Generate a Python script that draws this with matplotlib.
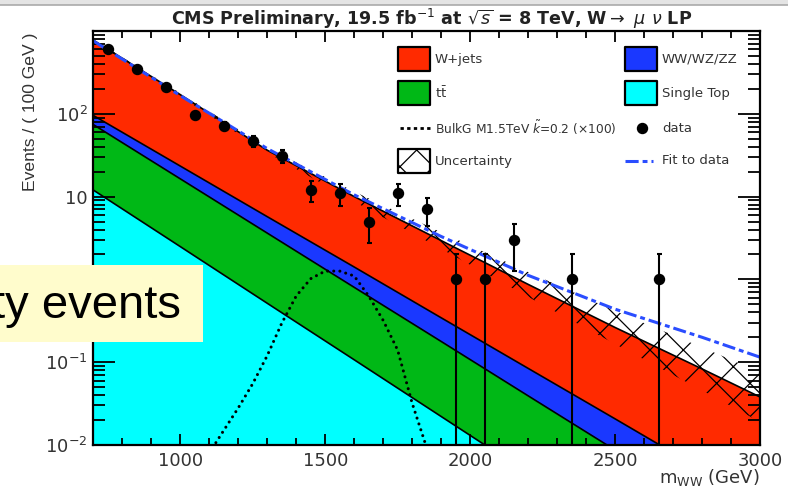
import numpy as np
import matplotlib
matplotlib.use('Agg')
import matplotlib.pyplot as plt
from matplotlib.patches import Rectangle
from matplotlib.lines import Line2D
from matplotlib.ticker import MultipleLocator, LogLocator, FuncFormatter, NullFormatter

plt.rcParams['font.family'] = ['DejaVu Sans']
plt.rcParams['mathtext.fontset'] = 'dejavusans'
plt.rcParams['hatch.linewidth'] = 0.9

# background templates (events / 100 GeV) at a few mass points
mass_grid = [700, 1000, 1300, 1600, 1900, 2200, 2500, 2800, 3000]
single_top = [12.0, 2.49, 0.515, 0.107, 0.0221, 0.00457, 0.00095, 0.000195, 0.0000692]
ttbar = [62.1, 13.9, 3.11, 0.695, 0.156, 0.0347, 0.00775, 0.00173, 0.00064]
diboson = [21.4, 7.0, 2.1, 0.61, 0.166, 0.045, 0.012, 0.0031, 0.0013]
wjets = [680, 147, 30.6, 8.6, 2.6, 0.787, 0.242, 0.078, 0.036]

# uncertainty band on total background
unc_low = [758, 162, 33.9, 8.71, 2.34, 0.616, 0.166, 0.0457, 0.019]
unc_high = [794, 178, 38.9, 11.5, 3.71, 1.23, 0.417, 0.151, 0.076]

# fit to data
fit_vals = [759, 166, 38, 10.5, 3.3, 1.12, 0.437, 0.2, 0.115]

# BulkG M=1.5 TeV signal (x100)
sig_mass = [1100, 1150, 1200, 1250, 1300, 1350, 1400, 1450, 1500, 1550,
            1600, 1650, 1700, 1750, 1800, 1850]
sig_vals = [0.008, 0.015, 0.028, 0.055, 0.12, 0.295, 0.63, 1.02, 1.26, 1.26,
            1.10, 0.63, 0.32, 0.14, 0.032, 0.0093]

# data
data_mass = [750, 850, 950, 1050, 1150, 1250, 1350, 1450, 1550, 1650,
             1750, 1850, 1950, 2050, 2150, 2350, 2650]
data_n = [600, 348, 210, 96, 72, 47, 31, 12, 11, 5, 11, 7, 1, 1, 3, 1, 1]

c_wjets = '#ff2a00'
c_vv = '#1a38ff'
c_tt = '#00b816'
c_st = '#00ffff'
c_fit = '#2a4dff'

W, H = 788, 487
def fx(x):
    return x / W
def fy(y):
    return 1 - y / H

fig = plt.figure(figsize=(W / 100, H / 100), dpi=100)
ax = fig.add_axes([93.3 / W, 1 - 445 / H, 666.7 / W, 414 / H])
ax.set_yscale('log')
ax.set_xlim(700, 3000)
ax.set_ylim(0.01, 1000)

# stacked backgrounds
comps = np.array([single_top, ttbar, diboson, wjets])
tops = np.cumsum(comps, axis=0)
bottom = np.full(len(mass_grid), 1e-4)
for top, col in zip(tops, [c_st, c_tt, c_vv, c_wjets]):
    ax.fill_between(mass_grid, bottom, top, color=col, lw=0, zorder=1)
    ax.plot(mass_grid, top, color='k', lw=1.2, zorder=2)
    bottom = top

# uncertainty hatch
ax.fill_between(mass_grid, unc_low, unc_high, facecolor='none', edgecolor='k',
                hatch='x', lw=0, zorder=3)

# fit line
fl, = ax.plot(mass_grid, fit_vals, color=c_fit, lw=2.2, zorder=4)
fl.set_dashes((4.3, 1.3, 1.6, 1.3))

# signal
sl, = ax.plot(sig_mass, sig_vals, color='k', lw=2.2, zorder=4,
              dash_capstyle='round')
sl.set_dashes((0.01, 2.0))

# data points
n = np.array(data_n, dtype=float)
err = np.sqrt(n)
err_lo = np.where(n - err > 0, err, n - 1e-4)
ax.errorbar(data_mass, n, yerr=[err_lo, err], fmt='o', color='k', ms=7.2,
            lw=1.5, capsize=1.8, capthick=1.5, zorder=5)

# axes styling
for sp in ax.spines.values():
    sp.set_linewidth(1.6)
    sp.set_zorder(6)
ax.xaxis.set_major_locator(MultipleLocator(500))
ax.xaxis.set_minor_locator(MultipleLocator(100))
ax.yaxis.set_major_locator(LogLocator(base=10, numticks=10))
ax.yaxis.set_minor_locator(LogLocator(base=10, subs=np.arange(2, 10), numticks=20))
ax.yaxis.set_minor_formatter(NullFormatter())

# the "1" label sits under the note box, so it is left blank
ylabels = {-2: r'$\mathregular{10^{-2}}$', -1: r'$\mathregular{10^{-1}}$',
           1: '10', 2: r'$\mathregular{10^{2}}$'}
ax.yaxis.set_major_formatter(FuncFormatter(
    lambda v, p: ylabels.get(int(round(np.log10(v))), '')))

ax.tick_params(axis='x', which='major', direction='in', length=8, width=1.3,
               top=True, labelsize=13, pad=5, colors='k', labelcolor='#333333')
ax.tick_params(axis='x', which='minor', direction='in', length=5, width=1.3, top=True)
ax.tick_params(axis='y', which='major', direction='in', length=15.5, width=1.3,
               right=True, labelsize=13, pad=4, labelcolor='#333333')
ax.tick_params(axis='y', which='minor', direction='in', length=8.5, width=1.3, right=True)

# title and axis titles
fig.text(fx(432), fy(19), r'CMS Preliminary, 19.5 fb$^{-1}$ at $\sqrt{s}$ = 8 TeV, W$\rightarrow$ $\mu$ $\nu$ LP',
         ha='center', va='center', fontsize=12.6, fontweight='bold', color='#222222')
fig.text(fx(760), fy(478), r'm$_{\mathregular{WW}}$ (GeV)', ha='right', va='center',
         fontsize=13, color='#333333')
fig.text(fx(30), fy(112), 'Events / ( 100 GeV )', rotation=90, ha='center', va='center',
         fontsize=12.6, color='#333333', family='Liberation Sans')

# legend
def box(x0, y0, **kw):
    fig.add_artist(Rectangle((fx(x0), fy(y0 + 24)), 32 / W, 24 / H,
                             transform=fig.transFigure, lw=1.6, edgecolor='k',
                             joinstyle='round', zorder=7, **kw))

def label(x, y, s, size=9.5):
    fig.text(fx(x), fy(y), s, ha='left', va='center', fontsize=size,
             color='#333333', zorder=7)

box(398, 47, facecolor=c_wjets)
label(435, 59, 'W+jets')
box(625, 47, facecolor=c_vv)
label(662, 59, 'WW/WZ/ZZ')
box(398, 81, facecolor=c_tt)
label(435, 93, r'$\mathregular{t\bar{t}}$')
box(625, 81, facecolor=c_st)
label(662, 93, 'Single Top')

leg_sig = Line2D([fx(400), fx(430)], [fy(128), fy(128)], transform=fig.transFigure,
                 color='k', lw=2.0, zorder=7)
leg_sig.set_dashes((1.2, 1.2))
fig.add_artist(leg_sig)
label(435, 128, r'BulkG M1.5TeV $\tilde{k}$=0.2 (×100)', size=8.8)
fig.add_artist(Line2D([fx(642)], [fy(128)], transform=fig.transFigure, marker='o',
                      ms=7.2, color='k', lw=0, zorder=7))
label(662, 128, 'data')

box(398, 149, facecolor='white', hatch='x')
label(435, 161, 'Uncertainty')
leg_fit = Line2D([fx(625), fx(653)], [fy(161), fy(161)], transform=fig.transFigure,
                 color=c_fit, lw=2.2, zorder=7)
leg_fit.set_dashes((4.3, 1.3, 1.6, 1.3))
fig.add_artist(leg_fit)
label(662, 161, 'Fit to data')

# window strip along the top edge
fig.add_artist(Rectangle((0, fy(4.5)), 1, 4.5 / H, transform=fig.transFigure,
                         facecolor='#e4e4e4', lw=0, zorder=8))
fig.add_artist(Line2D([0, 1], [fy(4.5), fy(4.5)], transform=fig.transFigure,
                      color='#aaaaaa', lw=1.2, zorder=8))

# slide note overlapping the plot
fig.add_artist(Rectangle((0, fy(342)), 203 / W, 77 / H, transform=fig.transFigure,
                         facecolor='#fffccc', lw=0, zorder=9))
fig.text(fx(181), fy(318), 'ty events', ha='right', va='baseline', fontsize=34,
         family='Liberation Sans', color='black', zorder=10)

fig.savefig('out.png', dpi=100)
